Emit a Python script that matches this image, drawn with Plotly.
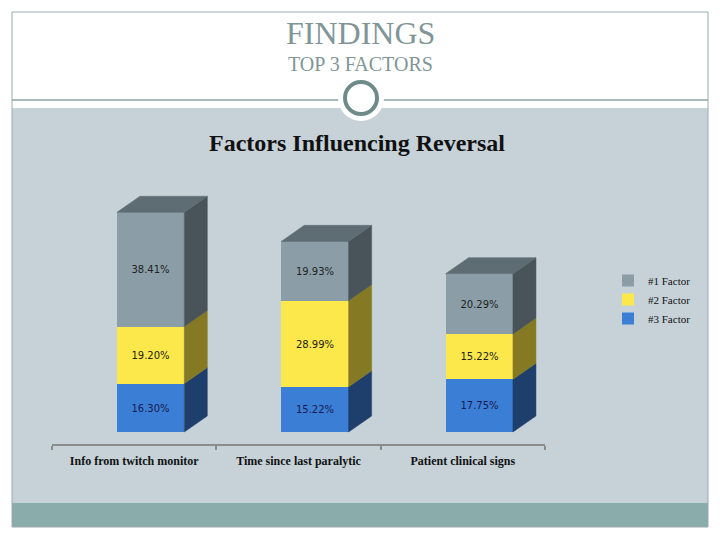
import plotly.graph_objects as go

# chart data
categories = ["Info from twitch monitor", "Time since last paralytic", "Patient clinical signs"]
factor1 = [38.41, 19.93, 20.29]
factor2 = [19.20, 28.99, 15.22]
factor3 = [16.30, 15.22, 17.75]
series_names = ["#1 Factor", "#2 Factor", "#3 Factor"]

# page body margin of the html output shifts the figure by 8px
PAGE = 8
W, H = 720, 540
# plot area in screen pixels
L, R, T, B = 52, 545, 180, 444
Y_MIN, Y_MAX = -4.04, 84.8


def px(x):
    return (x - L) / (R - L)


def py(y):
    return (B - y) / (B - T)


front = ["#8b9ea8", "#fde84b", "#3a7fd5"]
side = ["#48535a", "#857a23", "#1e3f6b"]
top_col = "#5e6c73"
txt_col = ["#222222", "#222222", "#1a1a50"]

OFF, WID = -0.105, 0.41
DX, DY = 0.14, 5.4

fig = go.Figure()

stack = [factor3, factor2, factor1]
stack_names = [series_names[2], series_names[1], series_names[0]]
stack_front = [front[2], front[1], front[0]]
stack_side = [side[2], side[1], side[0]]
stack_txt = [txt_col[2], txt_col[1], txt_col[0]]

xs = list(range(len(categories)))
base = [0.0] * len(categories)
side_polys = []
for k, vals in enumerate(stack):
    fig.add_trace(go.Bar(
        x=xs, y=vals, base=base[:], name=stack_names[k],
        offset=OFF, width=WID,
        marker=dict(color=stack_front[k], line=dict(width=0)),
        text=[f"{v:.2f}%" for v in vals],
        textposition="inside", insidetextanchor="middle", textangle=0,
        constraintext="none",
        textfont=dict(family="DejaVu Sans", size=10, color=stack_txt[k]),
        hoverinfo="skip",
    ))
    sx, sy = [], []
    for i, v in enumerate(vals):
        x1 = i + OFF + WID
        y0, y1 = base[i], base[i] + v
        sx += [x1, x1 + DX, x1 + DX, x1, x1, None]
        sy += [y0, y0 + DY, y1 + DY, y1, y0, None]
        base[i] = y1
    side_polys.append((sx, sy, stack_side[k]))

for sx, sy, c in side_polys:
    fig.add_trace(go.Scatter(x=sx, y=sy, mode="lines", fill="toself",
                             fillcolor=c, line=dict(color=c, width=0.5),
                             showlegend=False, hoverinfo="skip"))

tx, ty = [], []
for i, top in enumerate(base):
    x0 = i + OFF
    x1 = x0 + WID
    tx += [x0, x0 + DX, x1 + DX, x1, x0, None]
    ty += [top, top + DY, top + DY, top, top, None]
fig.add_trace(go.Scatter(x=tx, y=ty, mode="lines", fill="toself",
                         fillcolor=top_col, line=dict(color=top_col, width=0.5),
                         showlegend=False, hoverinfo="skip"))

# slide decoration
shapes = [
    dict(type="rect", xref="paper", yref="paper", x0=px(12), x1=px(708),
         y0=py(108), y1=py(503), fillcolor="#c6d1d8", line=dict(width=0), layer="below"),
    dict(type="rect", xref="paper", yref="paper", x0=px(12), x1=px(708),
         y0=py(503), y1=py(527), fillcolor="#8aacab", line=dict(width=0), layer="below"),
    dict(type="rect", xref="paper", yref="paper", x0=px(12), x1=px(708),
         y0=py(12), y1=py(527), line=dict(color="#9aabad", width=1), layer="below"),
    dict(type="line", xref="paper", yref="paper", x0=px(12), x1=px(708),
         y0=py(100), y1=py(100), line=dict(color="#8ea2a2", width=1.5), layer="below"),
    dict(type="circle", xref="paper", yref="paper", xsizemode="pixel", ysizemode="pixel",
         xanchor=px(361), yanchor=py(98), x0=-23, x1=23, y0=-23, y1=23,
         fillcolor="white", line=dict(width=0), layer="below"),
    dict(type="circle", xref="paper", yref="paper", xsizemode="pixel", ysizemode="pixel",
         xanchor=px(361), yanchor=py(98), x0=-16, x1=16, y0=-16, y1=16,
         fillcolor="white", line=dict(color="#6f8b89", width=4), layer="below"),
]

annotations = [
    dict(text="FINDINGS", x=px(360), y=py(33), xref="paper", yref="paper",
         xanchor="center", yanchor="middle", showarrow=False,
         font=dict(family="Liberation Serif", size=32, color="#7f9597")),
    dict(text="TOP 3 FACTORS", x=px(360), y=py(64), xref="paper", yref="paper",
         xanchor="center", yanchor="middle", showarrow=False,
         font=dict(family="Liberation Serif", size=20, color="#7f9597")),
    dict(text="<b>Factors Influencing Reversal</b>", x=px(357), y=py(143),
         xref="paper", yref="paper", xanchor="center", yanchor="middle", showarrow=False,
         font=dict(family="Liberation Serif", size=24, color="#111111")),
]

fig.update_layout(
    width=W, height=H, autosize=False,
    margin=dict(l=L - PAGE, r=W - (R - PAGE), t=T - PAGE, b=H - (B - PAGE)),
    paper_bgcolor="white", plot_bgcolor="rgba(0,0,0,0)",
    barmode="overlay", bargap=0,
    shapes=shapes, annotations=annotations,
    showlegend=True,
    legend=dict(x=px(608), y=py(266), xanchor="left", yanchor="top",
                traceorder="reversed", bgcolor="rgba(0,0,0,0)",
                font=dict(family="Liberation Serif", size=11, color="#111111"),
                itemwidth=30, tracegroupgap=0),
    xaxis=dict(range=[-0.5, 2.5], tickvals=xs, ticktext=categories, ticks="",
               showline=True, linecolor="#8c8c8c", linewidth=2, showgrid=False,
               zeroline=False, ticklabelstandoff=5,
               tickfont=dict(family="Liberation Serif", size=12, color="#111111", weight="bold"),
               minor=dict(tickvals=[-0.5, 0.5, 1.5, 2.5], ticks="outside",
                          ticklen=4, tickcolor="#8c8c8c", tickwidth=2, showgrid=False)),
    yaxis=dict(range=[Y_MIN, Y_MAX], visible=False, showgrid=False, zeroline=False),
)

fig.write_html("out.html")
